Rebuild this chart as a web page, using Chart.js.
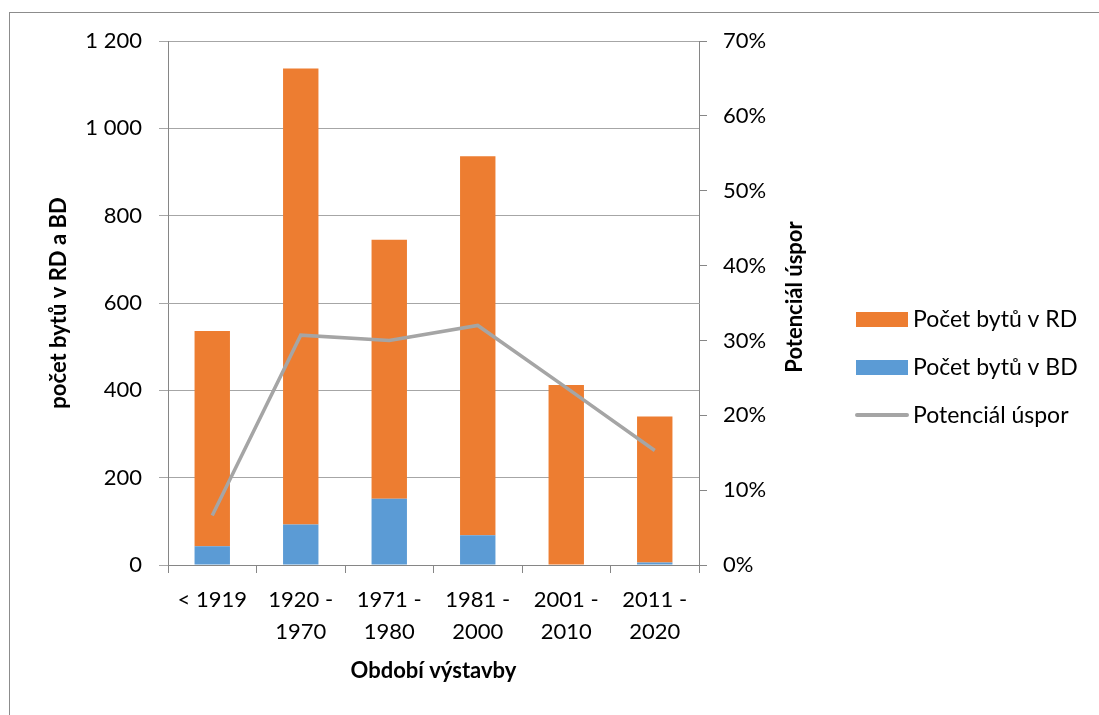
<!DOCTYPE html>
<html>
<head>
<meta charset="utf-8">
<script src="https://cdn.jsdelivr.net/npm/chart.js@4.4.1/dist/chart.umd.min.js"></script>
<style>
  html, body { margin: 0; padding: 0; background: #fff; }
  #wrap { position: relative; width: 1099px; height: 715px; overflow: hidden; }
  #frame { position: absolute; left: 9px; top: 12px; width: 1200px; height: 800px; border: 1px solid #8c8c8c; box-sizing: border-box; }
  canvas { position: absolute; left: 0; top: 0; }
</style>
</head>
<body>
<div id="wrap">
  <div id="frame"></div>
  <canvas id="c" width="1099" height="715"></canvas>
</div>
<script>
const categories = ["< 1919", ["1920 -", "1970"], ["1971 -", "1980"], ["1981 -", "2000"], ["2001 -", "2010"], ["2011 -", "2020"]];
const bytyBD = [43, 93, 152, 68, 1, 6];
const bytyRD = [493, 1044, 593, 868, 411, 334];
const potencial = [0.066, 0.307, 0.300, 0.320, 0.237, 0.153];

const FONT = "Lato, 'Open Sans', sans-serif";
const AXIS = "#868686";
const GRID = "#a6a6a6";
const rightTitle = "Potenciál úspor";

// legend beside the plot in Excel order (RD, BD, line) + right axis title read bottom-up
const sideLegend = {
  id: "sideLegend",
  afterDraw(chart) {
    const ctx = chart.ctx;
    const ds = chart.data.datasets;
    const order = [1, 0, 2];
    ctx.save();
    ctx.font = "23px " + FONT;
    ctx.textBaseline = "middle";
    order.forEach((i, k) => {
      const d = ds[i];
      const y = 319 + k * 48;
      if (d.type === "line") {
        ctx.strokeStyle = d.borderColor;
        ctx.lineWidth = 4;
        ctx.lineCap = "round";
        ctx.beginPath();
        ctx.moveTo(857, y);
        ctx.lineTo(907, y);
        ctx.stroke();
      } else {
        ctx.fillStyle = d.backgroundColor;
        ctx.fillRect(856, y - 7, 52, 15);
      }
      ctx.fillStyle = "#000";
      ctx.fillText(d.label, 913, y + 1);
    });

    const ca = chart.chartArea;
    ctx.translate(795, (ca.top + ca.bottom) / 2 - 6);
    ctx.rotate(-Math.PI / 2);
    ctx.font = "bold 22px " + FONT;
    ctx.textAlign = "center";
    ctx.fillStyle = "#000";
    ctx.fillText(rightTitle, 0, 0);
    ctx.restore();
  },
};

new Chart(document.getElementById("c"), {
  data: {
    labels: categories,
    datasets: [
      { type: "bar", label: "Počet bytů v BD", data: bytyBD, backgroundColor: "#5b9bd5", yAxisID: "y", order: 2, barPercentage: 0.4, categoryPercentage: 1 },
      { type: "bar", label: "Počet bytů v RD", data: bytyRD, backgroundColor: "#ed7d31", yAxisID: "y", order: 2, barPercentage: 0.4, categoryPercentage: 1 },
      { type: "line", label: "Potenciál úspor", data: potencial, borderColor: "#a5a5a5", borderWidth: 3.5, pointRadius: 0, tension: 0, yAxisID: "y1", order: 1 },
    ],
  },
  options: {
    responsive: false,
    animation: false,
    layout: { padding: { left: 0, top: 41, right: 279, bottom: 0 } },
    plugins: { legend: { display: false }, tooltip: { enabled: false } },
    scales: {
      x: {
        stacked: true,
        offset: true,
        grid: { offset: true, drawOnChartArea: false, color: AXIS, tickLength: 8 },
        border: { color: AXIS },
        ticks: { color: "#000", padding: 11, font: { family: FONT, size: 22, lineHeight: 1.45 }, maxRotation: 0 },
        title: { display: true, text: "Období výstavby", color: "#000", font: { family: FONT, size: 22, weight: "bold" }, padding: { top: 0, bottom: 31 } },
        afterFit(s) { s.height = 150; },
      },
      y: {
        position: "left",
        stacked: true,
        min: 0,
        max: 1200,
        grid: { color: GRID, tickLength: 9 },
        border: { color: AXIS },
        ticks: {
          stepSize: 200,
          color: "#000",
          padding: 17,
          font: { family: FONT, size: 22 },
          callback: (v) => String(v).replace(/\B(?=(\d{3})+(?!\d))/g, " "),
        },
        title: { display: true, text: "počet bytů v RD a BD", color: "#000", font: { family: FONT, size: 22, weight: "bold" }, padding: { top: 46, bottom: 0 } },
        afterFit(s) { s.width = 168; },
      },
      y1: {
        position: "right",
        min: 0,
        max: 0.7,
        grid: { drawOnChartArea: false, color: AXIS, tickLength: 8 },
        border: { color: AXIS },
        ticks: {
          stepSize: 0.1,
          color: "#000",
          padding: 16,
          font: { family: FONT, size: 22 },
          callback: (v) => Math.round(v * 100) + "%",
        },
        afterFit(s) { s.width = 121; },
      },
    },
  },
  plugins: [sideLegend],
});
</script>
</body>
</html>
